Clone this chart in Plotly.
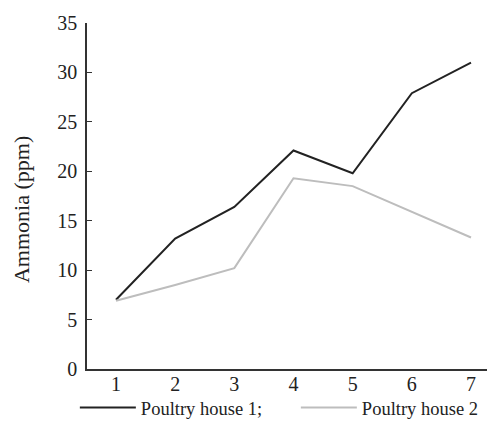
import plotly.graph_objects as go

weeks = [1, 2, 3, 4, 5, 6, 7]
house1 = [7.0, 13.2, 16.4, 22.1, 19.8, 27.9, 31.0]
house2 = [6.9, 8.5, 10.2, 19.3, 18.5, 15.9, 13.3]
y_ticks = [0, 5, 10, 15, 20, 25, 30, 35]
series_names = ["Poultry house 1;", "Poultry house 2"]

FONT = "Liberation Serif"

fig = go.Figure()
fig.add_trace(go.Scatter(x=weeks, y=house1, mode="lines", name=series_names[0],
                         line=dict(color="#222222", width=2)))
fig.add_trace(go.Scatter(x=weeks, y=house2, mode="lines", name=series_names[1],
                         line=dict(color="#bdbdbd", width=2)))

# page body has an 8px margin, so the figure is 8px smaller than the window
fig.update_layout(
    width=487, height=413,
    margin=dict(l=79, r=3, t=15, b=52, autoexpand=False),
    paper_bgcolor="white", plot_bgcolor="white",
    font=dict(family=FONT, size=20, color="#222222"),
    showlegend=True,
    legend=dict(orientation="h", x=-0.03, xanchor="left", y=-0.113, yanchor="middle",
                font=dict(family=FONT, size=18.5, color="#222222"),
                entrywidth=150, entrywidthmode="pixels", itemwidth=56,
                bgcolor="rgba(0,0,0,0)"),
    xaxis=dict(range=[0.51, 7.355], tickvals=weeks, ticks="", showgrid=False,
               zeroline=False, showline=True, linecolor="#333333", linewidth=1.5,
               tickfont=dict(family=FONT, size=20), ticklabelstandoff=-4,
               automargin=False),
    yaxis=dict(range=[0, 35], tickvals=y_ticks, ticks="inside", ticklen=5,
               tickcolor="#333333", tickwidth=1.2, showgrid=False, zeroline=False,
               showline=True, linecolor="#333333", linewidth=1.5,
               tickfont=dict(family=FONT, size=20), ticklabelstandoff=4,
               automargin=False),
    annotations=[dict(text="Ammonia (ppm)", xref="paper", yref="paper",
                      x=-0.16, y=0.46, xanchor="center", yanchor="middle",
                      textangle=-90, showarrow=False,
                      font=dict(family=FONT, size=22, color="#222222"))],
)

fig.write_html("out.html")
